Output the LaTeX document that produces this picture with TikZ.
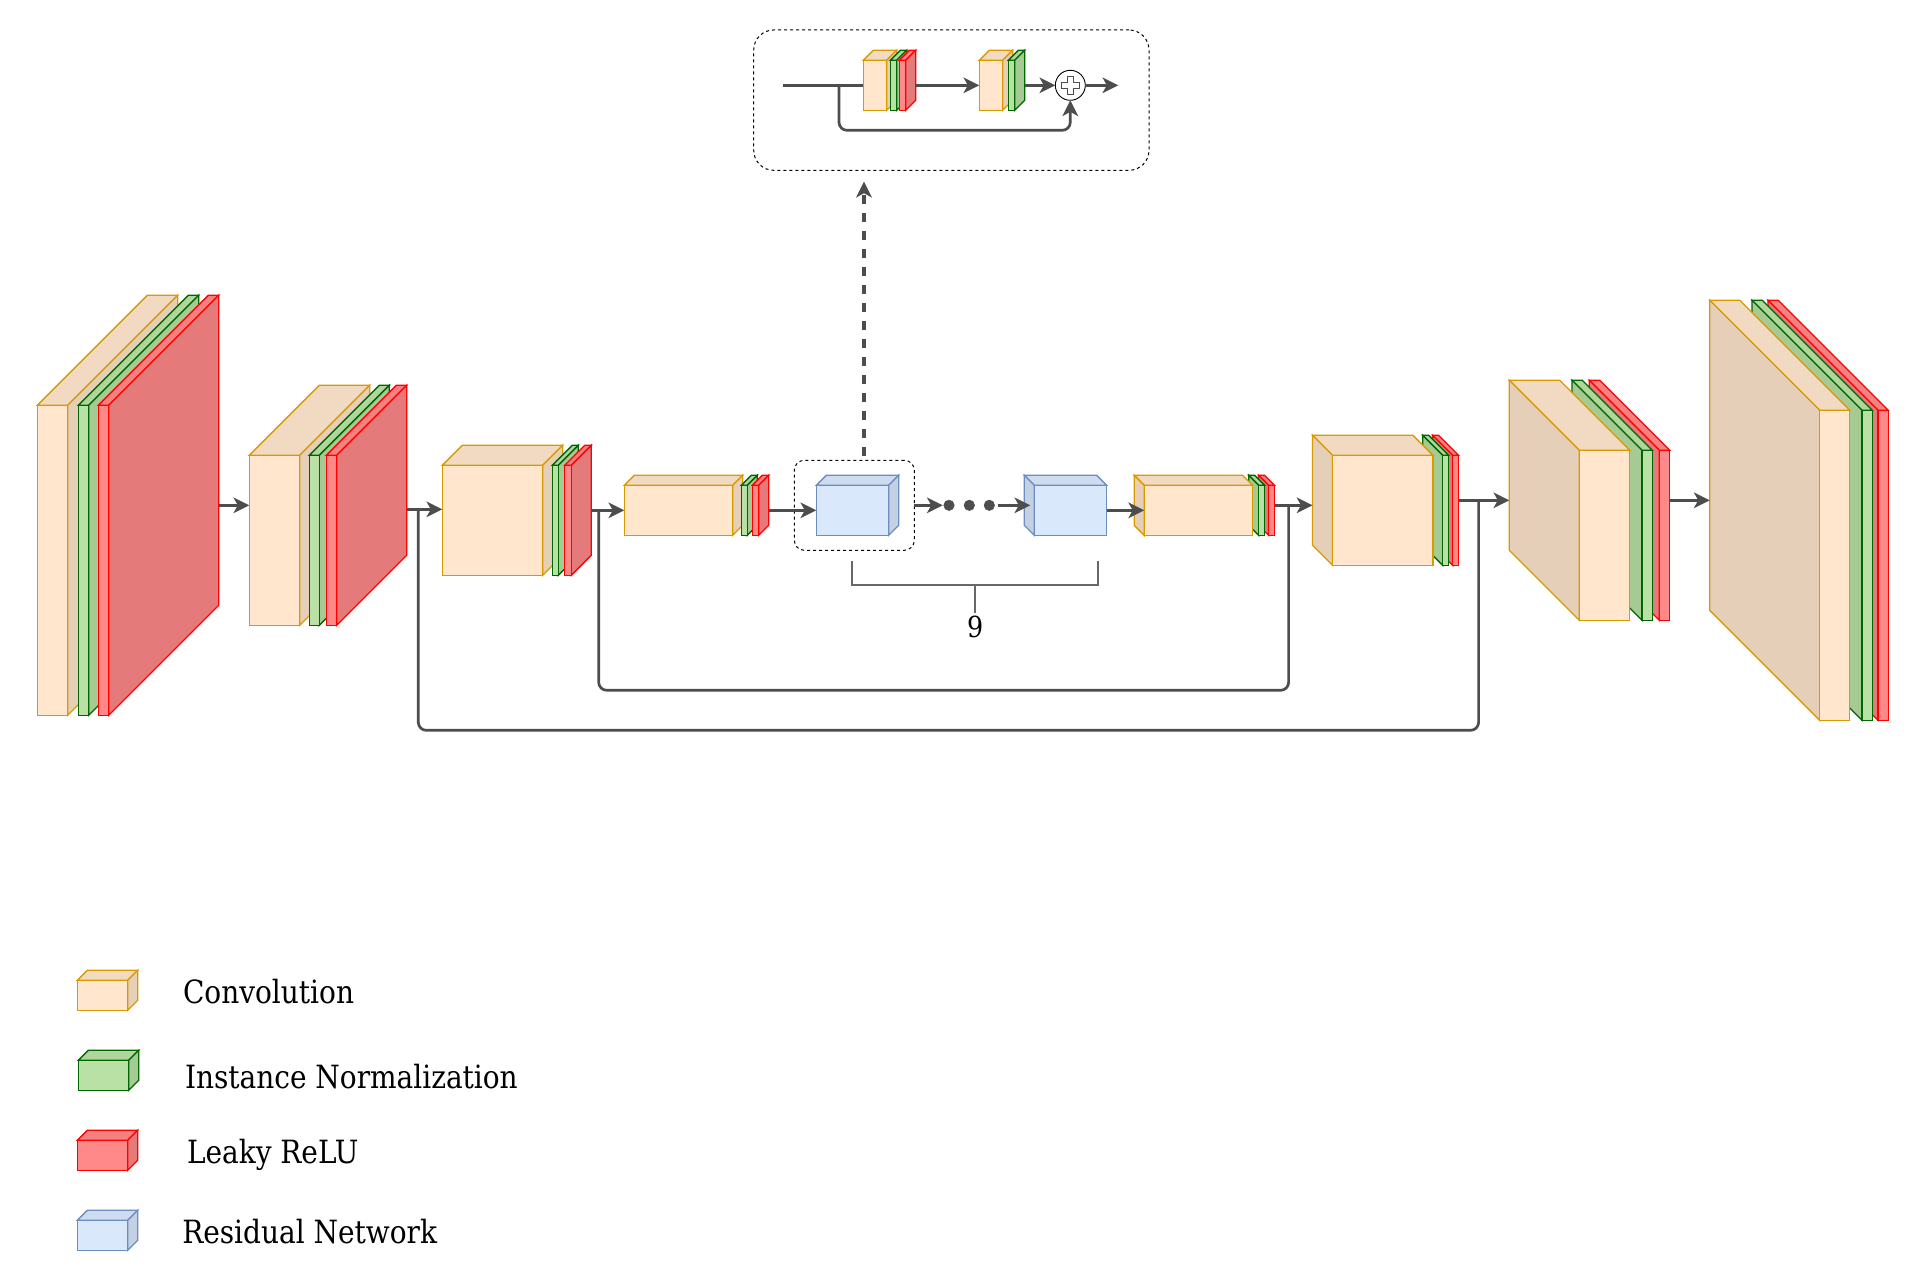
\documentclass[tikz,border=0pt]{standalone}
\usepackage{fontspec}
\usetikzlibrary{arrows.meta,calc}
\newfontfamily\labfont[FakeStretch=0.972]{DejaVu Serif Condensed}
\definecolor{convF}{HTML}{FFE6CC}\definecolor{convE}{HTML}{D79B00}
\definecolor{normF}{HTML}{B9E0A5}\definecolor{normE}{HTML}{006600}
\definecolor{reluF}{HTML}{FF8888}\definecolor{reluE}{HTML}{FF0000}
\definecolor{residF}{HTML}{DAE8FC}\definecolor{residE}{HTML}{6C8EBF}
\definecolor{wire}{HTML}{4D4D4D}
\tikzset{
  face/.style={line width=1.3pt,line join=miter},
  frontface/.style={face,rectangle,inner sep=0pt,outer sep=0pt,anchor=north west},
  extent/.style={rectangle,inner sep=0pt,outer sep=0pt,anchor=north west},
  flow/.style={draw=wire,line width=2.7pt,-{Stealth[length=16pt,width=16pt,inset=4.5pt,line width=0pt]}},
  plainwire/.style={draw=wire,line width=2.7pt},
  skipwire/.style={draw=wire,line width=2.7pt,rounded corners=8pt},
  bracketwire/.style={draw=wire!85!white,line width=1.8pt},
  dashbox/.style={draw=black,line width=1pt,dash pattern=on 3pt off 3pt,rectangle,inner sep=0pt,outer sep=0pt,anchor=north west},
  dot/.style={circle,fill=wire,draw=wire,line width=0.5pt,minimum size=10.5pt,inner sep=0pt,outer sep=0pt},
  lab/.style={anchor=base west,inner sep=0pt,outer sep=0pt,font=\labfont\fontsize{32}{38}\selectfont},
}
% name, x, y, w, h, dx, dy, colour prefix
\newcommand\layer[8]{%
  \pgfmathsetmacro\sidex{ifthenelse(#6>0,#2+#4,#2)}%
  \pgfmathsetmacro\boxx{ifthenelse(#6>0,#2,#2+#6)}%
  \pgfmathsetmacro\boxw{#4+abs(#6)}%
  \pgfmathsetmacro\boxh{#5+#7}%
  \pgfmathsetmacro\boxy{#3-#7}%
  \draw[face,draw=#8E,fill=#8F!95!black] (#2,#3) -- ++(#6,-#7) -- ++(#4,0) -- ++(-#6,#7) -- cycle;
  \draw[face,draw=#8E,fill=#8F!90!black] (\sidex,#3) -- ++(#6,-#7) -- ++(0,#5) -- ++(-#6,#7) -- cycle;
  \node[frontface,draw=#8E,fill=#8F,minimum width=#4pt,minimum height=#5pt] (#1) at (#2,#3) {};
  \node[extent,minimum width=\boxw pt,minimum height=\boxh pt] (#1-b) at (\boxx,\boxy) {};
}
\begin{document}
\begin{tikzpicture}[x=1pt,y=-1pt]
\useasboundingbox (0,0) rectangle (1919,1281);
% encoder
\layer{c1}{37.3}{405.3}{30.4}{310}{110}{110}{conv}
\layer{n1}{78.3}{405.3}{10.4}{310}{110}{110}{norm}
\layer{r1}{98.3}{405.3}{10.4}{310}{110}{110}{relu}
\layer{c2}{249.3}{455.3}{50.4}{170}{70}{70}{conv}
\layer{n2}{309.3}{455.3}{10}{170}{70}{70}{norm}
\layer{r2}{326.3}{455.3}{10.4}{170}{70}{70}{relu}
\layer{c3}{442.3}{465.3}{100.4}{110}{20}{20}{conv}
\layer{n3}{552.3}{465.3}{6}{110}{20}{20}{norm}
\layer{r3}{564.7}{465.3}{6.6}{110}{20}{20}{relu}
\layer{c4}{624.3}{485.3}{108.4}{50}{10}{10}{conv}
\layer{n4}{741.3}{485.3}{6}{50}{10}{10}{norm}
\layer{r4}{752.3}{485.3}{6.4}{50}{10}{10}{relu}
% residual blocks
\layer{b1}{816.3}{485.3}{72.4}{50}{10}{10}{resid}
\node[dashbox,minimum width=120pt,minimum height=90pt,rounded corners=10pt] (rb) at (794.3,460.3) {};
\layer{b2}{1034.3}{485.3}{72.4}{50}{-10}{10}{resid}
\node[dot] (d1) at (949,505.3) {};
\node[dot] (d2) at (969.3,505.3) {};
\node[dot] (d3) at (989.3,505.3) {};
% decoder
\layer{r5}{1268.5}{485.3}{6}{50}{-10}{10}{relu}
\layer{n5}{1258.7}{485.3}{6}{50}{-10}{10}{norm}
\layer{c5}{1144.2}{485.3}{108.4}{50}{-10}{10}{conv}
\layer{r6}{1452.6}{455.3}{6}{110}{-20}{20}{relu}
\layer{n6}{1442.7}{455.3}{6}{110}{-20}{20}{norm}
\layer{c6}{1332.5}{455.3}{100.4}{110}{-20}{20}{conv}
\layer{r7}{1659.3}{450.3}{10.4}{170}{-70}{70}{relu}
\layer{n7}{1642}{450.3}{10.3}{170}{-70}{70}{norm}
\layer{c7}{1579.3}{450.3}{50.4}{170}{-70}{70}{conv}
\layer{r8}{1878}{410.3}{10.3}{310}{-110}{110}{relu}
\layer{n8}{1862}{410.3}{10.3}{310}{-110}{110}{norm}
\layer{c8}{1819.7}{410.3}{30}{310}{-110}{110}{conv}
% top inset
\node[dashbox,minimum width=395.3pt,minimum height=140.3pt,rounded corners=20pt] (tb) at (753.7,30) {};
\coordinate (inStart) at (783.3,85.3);
\coordinate (inBranch) at (839,85.3);
\coordinate (inLow) at (839,130.3);
\node[circle,draw=black,fill=white,line width=0.9pt,minimum size=30pt,inner sep=0pt,outer sep=0pt] (plus) at (1070.3,85.3) {};
\draw[draw=wire,fill=white,line width=1.5pt] (plus.center) ++(-3,-9) -- ++(6,0) -- ++(0,6) -- ++(6,0) -- ++(0,6) -- ++(-6,0) -- ++(0,6) -- ++(-6,0) -- ++(0,-6) -- ++(-6,0) -- ++(0,-6) -- ++(6,0) -- cycle;
\coordinate (inEnd) at (1118.3,85.3);
\draw[plainwire] (inStart) -- (863.3,85.3);
\layer{ic1}{863.3}{60.3}{23.4}{50}{10}{10}{conv}
\layer{in1}{890.3}{60.3}{6.4}{50}{10}{10}{norm}
\layer{ir1}{899.3}{60.3}{6.4}{50}{10}{10}{relu}
\layer{ic2}{979.3}{60.3}{23.4}{50}{10}{10}{conv}
\layer{in2}{1008.3}{60.3}{6.4}{50}{10}{10}{norm}
\draw[flow] (ir1-b.east |- ic2.west) -- (ic2.west);
\draw[flow] (in2-b.east |- plus.west) -- (plus.west);
\draw[flow] (plus.east) -- (inEnd);
\draw[skipwire,-{Stealth[length=16pt,width=16pt,inset=4.5pt,line width=0pt]}] (inBranch) -- (inLow) -- (inLow -| plus.south) -- (plus.south);
% main connectors
\draw[flow] (r1-b.east) -- (c2.west |- r1-b.east);
\coordinate (j2) at ([yshift=1pt]c3-b.west);
\draw[flow] (r2-b.east |- j2) -- (j2);
\draw[flow] (r3-b.east) -- (c4.west);
\draw[flow] (r4-b.east |- b1.west) -- (b1.west);
\coordinate (upEnd) at (864,181.7);
\draw[flow,line width=3.2pt,dash pattern=on 9pt off 9pt] ([shift={(9.7pt,4pt)}]rb.north) -- (upEnd);
\draw[flow] (rb.east) -- ([xshift=-1pt]d1.west);
\draw[flow] ([xshift=3.5pt]d3.east) -- ([xshift=6pt]b2-b.west);
\draw[flow] (b2.east) -- (c5.west);
\draw[flow] (r5-b.east) -- (c6-b.west |- r5-b.east);
\draw[flow] (r6-b.east) -- (c7-b.west);
\draw[flow] (r7-b.east) -- (c8-b.west |- r7-b.east);
% skip connections
\coordinate (sk1a) at (418.3,509.3);
\coordinate (sk1b) at (1478.6,500.3);
\coordinate (sk1low) at (0,730.3);
\draw[skipwire] (sk1a) -- (sk1a |- sk1low) -- (sk1b |- sk1low) -- (sk1b);
\coordinate (sk2a) at (598.7,510.3);
\coordinate (sk2b) at (1288.6,505.3);
\coordinate (sk2low) at (0,690.3);
\draw[skipwire] (sk2a) -- (sk2a |- sk2low) -- (sk2b |- sk2low) -- (sk2b);
% bracket
\coordinate (brL) at (852.3,560.7);
\coordinate (brR) at (1097.7,560.7);
\coordinate (brLow) at (0,585.3);
\node[anchor=base,inner sep=0pt,outer sep=0pt,font=\labfont\fontsize{29}{34}\selectfont] (nine) at (975.3,637.3) {9};
\draw[bracketwire] (brL) -- (brL |- brLow) -- (brR |- brLow) -- (brR);
\draw[bracketwire] (nine.north |- brLow) -- ([yshift=3pt]nine.north);
% legend
\layer{lc}{77.3}{980.3}{50.4}{30}{10}{10}{conv}
\layer{ln}{78.3}{1060.3}{50.4}{30}{10}{10}{norm}
\layer{lr}{77.3}{1140.3}{50.4}{30}{10}{10}{relu}
\layer{lb}{77.3}{1220.3}{50.4}{30}{10}{10}{resid}
\node[lab] (tc) at (183,1003.7) {Convolution};
\node[lab] (tn) at (185,1088.7) {Instance Normalization};
\node[lab] (tr) at (187,1163.7) {Leaky ReLU};
\node[lab] (tb2) at (182.3,1243.3) {Residual Network};
\end{tikzpicture}
\end{document}
